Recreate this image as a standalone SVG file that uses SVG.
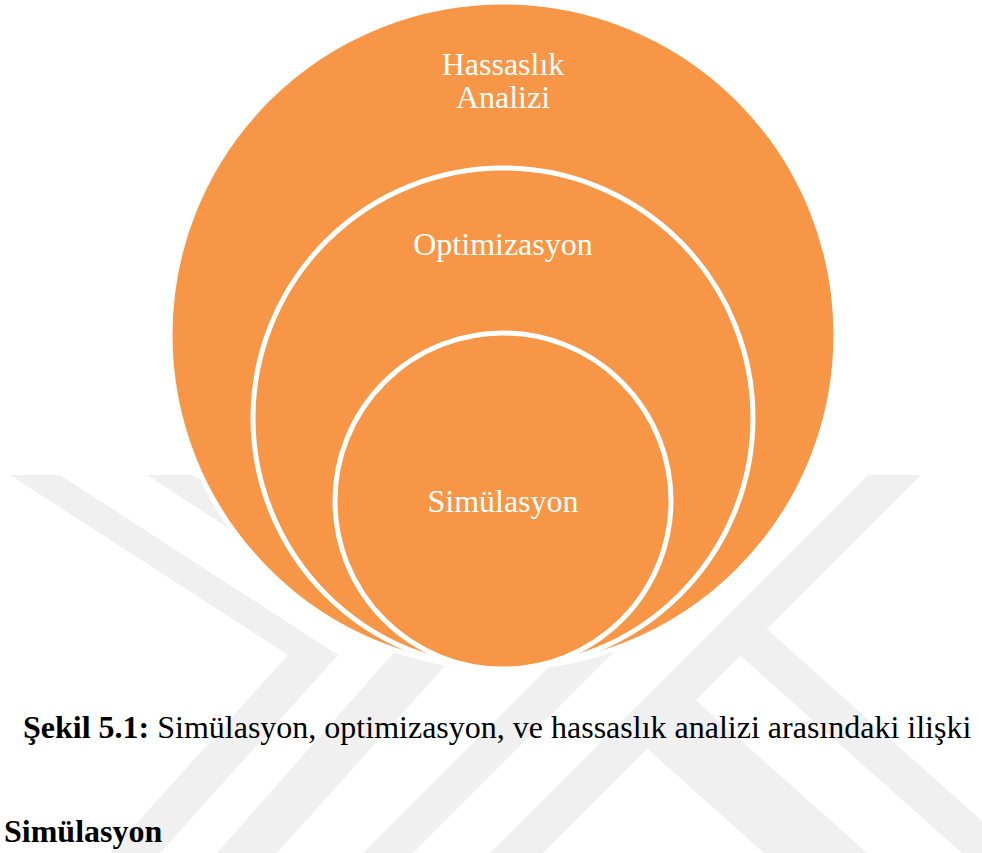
<svg xmlns="http://www.w3.org/2000/svg" width="982" height="853" viewBox="0 0 982 853">
<style>
  .wm { fill: #f0f0f0; stroke: none; }
  .ring { fill: #F79646; stroke: #FFFFFF; stroke-width: 5; }
  .lbl { font-family: "Liberation Serif", "Times New Roman", serif; font-size: 32px; fill: #FFFFFF; text-anchor: middle; }
  .cap { font-family: "Liberation Serif", "Times New Roman", serif; font-size: 32px; fill: #000000; }
  .b { font-weight: bold; }
</style>
<rect x="0" y="0" width="982" height="853" fill="#FFFFFF"/>
<g id="watermark">
  <polygon class="wm" points="10,475 60,475 338,655 160,853 110,853 288,655"/>
  <polygon class="wm" points="147,475 193,475 461,648 277,853 217,853 403,642"/>
  <polygon class="wm" points="656,560 706,560 413,853 363,853"/>
  <polygon class="wm" points="868,475 921,475 543,853 490,853"/>
  <polygon class="wm" points="750,614 982,821 982,871 725,642"/>
  <polygon class="wm" points="680,686 867,853 764,853 633,736"/>
</g>
<g id="node-hassaslik">
  <circle class="ring" cx="503" cy="335" r="333"/>
  <text class="lbl" x="503" y="75">Hassaslık</text>
  <text class="lbl" x="503" y="108">Analizi</text>
</g>
<g id="node-optimizasyon">
  <circle class="ring" cx="503" cy="418" r="250"/>
  <text class="lbl" x="503" y="255">Optimizasyon</text>
</g>
<g id="node-simulasyon">
  <circle class="ring" cx="503" cy="501" r="168"/>
  <text class="lbl" x="503" y="512">Simülasyon</text>
</g>
<g id="connectors"></g>
<g id="caption">
  <text class="cap" x="23" y="738"><tspan class="b">Şekil 5.1:</tspan> Simülasyon, optimizasyon, ve hassaslık analizi arasındaki ilişki</text>
</g>
<g id="heading">
  <text class="cap b" x="4" y="842">Simülasyon</text>
</g>
</svg>
